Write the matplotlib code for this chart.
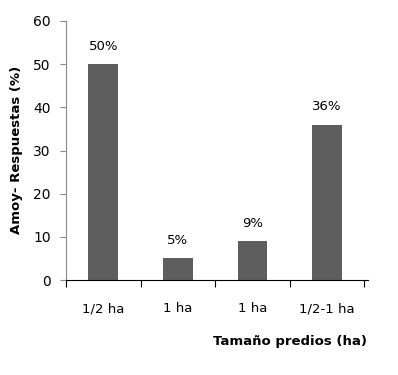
import matplotlib
matplotlib.use("Agg")
import matplotlib.pyplot as plt
import numpy as np

categories = ["1/2 ha", "1 ha", "1 ha", "1/2-1 ha"]
values = [50, 5, 9, 36]
value_labels = ["50%", "5%", "9%", "36%"]
y_ticks = [0, 10, 20, 30, 40, 50, 60]

plt.rcParams['font.family'] = ['DejaVu Sans']

fig = plt.figure(figsize=(3.98, 3.75), dpi=100)
ax = fig.add_axes([66/398, 1-280/375, (368-66)/398, (280-21)/375])

x = np.arange(len(categories))
ax.bar(x, values, width=0.4, color="#5e5e5e")
for xi, v, lab in zip(x, values, value_labels):
    ax.annotate(lab, (xi, v), xytext=(0, 8), textcoords="offset points",
                ha="center", va="bottom", fontsize=9.5)

ax.set_ylim(0, 60)
ax.set_xlim(-0.5, 3.55)
ax.set_yticks(y_ticks)
ax.set_xticks(x)
ax.set_xticklabels(categories, fontsize=9.5)
ax.tick_params(axis='x', which='major', length=0, pad=16)
ax.set_xticks(np.arange(-0.5, 4, 1.0), minor=True)
ax.tick_params(axis='x', which='minor', length=5, width=0.8, direction='out')
ax.tick_params(axis='y', length=4, width=0.8, labelsize=10, pad=7, color="#888888")
for s in ["top", "right"]:
    ax.spines[s].set_visible(False)
ax.spines["left"].set_color("#888888")
ax.spines["bottom"].set_color("black")

fig.text(17/398, 1-150/375, "Amoy- Respuestas (%)", rotation=90, ha="center", va="center",
         fontsize=9.5, fontweight="bold")
fig.text(290/398, 1-342/375, "Tamaño predios (ha)", ha="center", va="center",
         fontsize=9.5, fontweight="bold")

fig.savefig("out.png", dpi=100)
